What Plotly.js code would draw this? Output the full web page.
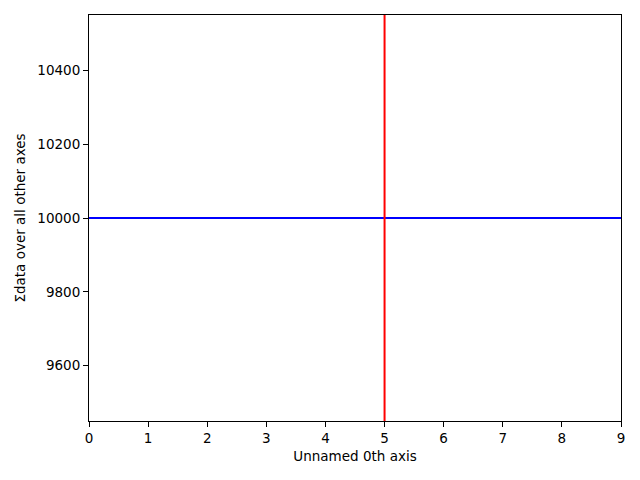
<!DOCTYPE html>
<html>
<head>
<meta charset="utf-8">
<script src="https://cdn.plot.ly/plotly-3.0.1.min.js"></script>
<style>html,body{margin:0;padding:0;background:#fff;}#chart{width:640px;height:480px;}</style>
</head>
<body>
<div id="chart"></div>
<script>
// Data
const xIndex = [0, 1, 2, 3, 4, 5, 6, 7, 8, 9];
const sumValues = [10000, 10000, 10000, 10000, 10000, 10000, 10000, 10000, 10000, 10000];
const markerX = [5];
const yTickVals = [9600, 9800, 10000, 10200, 10400];
const xTickVals = [0, 1, 2, 3, 4, 5, 6, 7, 8, 9];

const font = {family: 'DejaVu Sans, sans-serif', size: 13.5, color: '#000'};

const traces = [{
  x: xIndex,
  y: sumValues,
  type: 'scatter',
  mode: 'lines',
  line: {color: '#0000ff', width: 2},
  hoverinfo: 'skip'
}];

const shapes = markerX.map(v => ({
  type: 'line', xref: 'x', yref: 'paper',
  x0: v, x1: v, y0: 0, y1: 1,
  line: {color: '#ff0000', width: 2},
  layer: 'above'
}));

const axisCommon = {
  showline: true, linecolor: '#000', linewidth: 1, mirror: true,
  ticks: 'outside', ticklen: 5, tickwidth: 1, tickcolor: '#000',
  showgrid: false, zeroline: false,
  tickfont: font
};

const layout = {
  width: 640, height: 480,
  margin: {l: 89, r: 19, t: 15, b: 59},
  paper_bgcolor: '#fff', plot_bgcolor: '#fff',
  showlegend: false,
  font: font,
  xaxis: Object.assign({}, axisCommon, {
    range: [0, 9],
    tickmode: 'array', tickvals: xTickVals, ticktext: xTickVals.map(String),
    title: {text: 'Unnamed 0th axis', font: font, standoff: 6}
  }),
  yaxis: Object.assign({}, axisCommon, {
    range: [9450, 10550],
    tickmode: 'array', tickvals: yTickVals, ticktext: yTickVals.map(String),
    title: {text: 'Σdata over all other axes', font: font, standoff: 8}
  }),
  shapes: shapes
};

Plotly.newPlot('chart', traces, layout, {staticPlot: true, displayModeBar: false});
</script>
</body>
</html>
